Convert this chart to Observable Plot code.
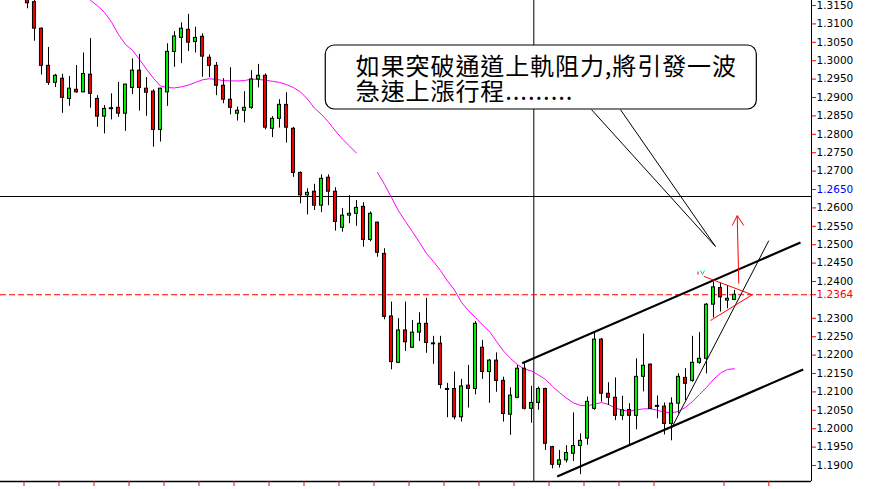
<!DOCTYPE html>
<html>
<head>
<meta charset="utf-8">
<script src="https://cdn.jsdelivr.net/npm/d3@7"></script>
<script src="https://cdn.jsdelivr.net/npm/@observablehq/plot@0.6"></script>
<style>
  html, body { margin: 0; padding: 0; background: #fff; overflow: hidden; }
  #chart svg { display: block; }
</style>
</head>
<body>
<div id="chart"></div>
<script>
// ---- candle data (index 1..102) ----
const opens  = [1.3172,1.3159,1.3087,1.2986,1.2940,1.2951,1.2896,1.2921,1.2914,1.2962,
                1.2896,1.2848,1.2871,1.2872,1.2856,1.2926,1.2973,1.2924,1.2916,1.2812,
                1.2914,1.3024,1.3062,1.3084,1.3051,1.3065,1.3008,1.2986,1.2932,1.2894,
                1.2856,1.2864,1.2872,1.2949,1.2959,1.2815,1.2842,1.2880,1.2815,1.2695,
                1.2634,1.2644,1.2606,1.2682,1.2644,1.2546,1.2579,1.2584,1.2603,1.2513,
                1.2560,1.2475,1.2305,1.2179,1.2267,1.2220,1.2261,1.2285,1.2232,1.2231,
                1.2108,1.2108,1.2031,1.2117,1.2108,1.2220,1.2154,1.2185,1.2130,1.2038,
                1.2084,1.2163,1.2054,1.2070,1.2108,1.1950,1.1902,1.1914,1.1932,1.1953,
                1.1973,1.2054,1.2242,1.2095,1.2084,1.2035,1.2051,1.2035,1.2141,1.2174,
                1.2062,1.2060,1.2013,1.2068,1.2138,1.2130,1.2179,1.2190,1.2337,1.2382,
                1.2348,1.2350];
const highs  = [1.3180,1.3165,1.3089,1.3036,1.2963,1.2963,1.2957,1.2987,1.3021,1.3060,
                1.2905,1.2878,1.2910,1.2941,1.2936,1.3005,1.3017,1.2954,1.2921,1.2925,
                1.3046,1.3079,1.3103,1.3126,1.3091,1.3073,1.3016,1.2995,1.2951,1.2981,
                1.2874,1.2916,1.2973,1.2990,1.2964,1.2848,1.2894,1.2913,1.2819,1.2698,
                1.2652,1.2664,1.2690,1.2690,1.2655,1.2598,1.2633,1.2620,1.2614,1.2589,
                1.2561,1.2489,1.2344,1.2299,1.2344,1.2294,1.2315,1.2354,1.2251,1.2251,
                1.2123,1.2154,1.2134,1.2172,1.2291,1.2240,1.2188,1.2206,1.2140,1.2111,
                1.2172,1.2181,1.2115,1.2113,1.2110,1.1952,1.1941,1.1954,1.2043,1.1986,
                1.2086,1.2261,1.2245,1.2125,1.2138,1.2088,1.2068,1.2190,1.2257,1.2176,
                1.2089,1.2070,1.2084,1.2149,1.2163,1.2251,1.2261,1.2340,1.2398,1.2395,
                1.2389,1.2376];
const lows   = [1.3141,1.3053,1.2961,1.2933,1.2927,1.2857,1.2876,1.2912,1.2913,1.2871,
                1.2819,1.2801,1.2839,1.2846,1.2808,1.2908,1.2863,1.2849,1.2765,1.2779,
                1.2876,1.2982,1.2992,1.3025,1.3021,1.2955,1.2954,1.2905,1.2883,1.2853,
                1.2836,1.2831,1.2868,1.2926,1.2812,1.2791,1.2817,1.2776,1.2683,1.2611,
                1.2581,1.2593,1.2587,1.2606,1.2537,1.2534,1.2557,1.2550,1.2493,1.2508,
                1.2466,1.2296,1.2160,1.2177,1.2210,1.2218,1.2237,1.2205,1.2175,1.2108,
                1.2030,1.2024,1.2018,1.2056,1.2092,1.2134,1.2069,1.2099,1.2018,1.1982,
                1.2082,1.2051,1.2015,1.2050,1.1941,1.1891,1.1893,1.1907,1.1911,1.1875,
                1.1955,1.2050,1.2072,1.2063,1.2022,1.2022,1.1956,1.1997,1.2100,1.2052,
                1.2027,1.1983,1.1967,1.2040,1.2076,1.2126,1.2175,1.2149,1.2301,1.2317,
                1.2326,1.2348];
const closes = [1.3156,1.3087,1.2986,1.2940,1.2959,1.2899,1.2924,1.2914,1.2964,1.2910,
                1.2848,1.2869,1.2871,1.2856,1.2935,1.2973,1.2926,1.2913,1.2812,1.2924,
                1.3024,1.3066,1.3087,1.3049,1.3062,1.3011,1.2986,1.2932,1.2894,1.2872,
                1.2864,1.2872,1.2949,1.2959,1.2818,1.2842,1.2880,1.2818,1.2695,1.2634,
                1.2641,1.2606,1.2679,1.2644,1.2562,1.2579,1.2584,1.2600,1.2513,1.2584,
                1.2478,1.2304,1.2181,1.2267,1.2235,1.2261,1.2285,1.2233,1.2232,1.2119,
                1.2108,1.2031,1.2115,1.2108,1.2285,1.2154,1.2185,1.2130,1.2040,1.2090,
                1.2163,1.2054,1.2070,1.2108,1.1959,1.1902,1.1914,1.1934,1.1953,1.1967,
                1.2073,1.2242,1.2095,1.2084,1.2035,1.2050,1.2035,1.2141,1.2171,1.2054,
                1.2062,1.2013,1.2068,1.2141,1.2122,1.2179,1.2190,1.2337,1.2384,1.2357,
                1.2353,1.2364];

// ---- moving average (index 10..102), null = gap ----
const maStart = 10;
const maValues = [1.3164,1.3149,1.3131,1.3105,1.3071,1.3044,1.3028,1.3003,1.2977,1.2952,
                  1.2931,1.2927,1.2926,1.2929,1.2934,1.2941,1.2948,1.2951,1.2949,1.2946,
                  1.2945,1.2945,1.2946,1.2950,1.2949,1.2947,1.2944,1.2941,1.2935,1.2927,
                  1.2915,1.2896,1.2871,1.2854,1.2833,1.2809,1.2787,1.2768,1.2749,null,
                  null,1.2696,1.2664,1.2628,1.2592,1.2563,1.2535,1.2506,1.2476,1.2454,
                  1.2430,1.2401,1.2377,1.2343,1.2321,1.2302,1.2282,1.2264,1.2237,1.2211,
                  1.2191,1.2174,1.2162,1.2157,1.2146,1.2134,1.2115,1.2098,1.2083,1.2070,
                  1.2063,1.2062,1.2067,1.2071,1.2066,1.2056,1.2050,1.2048,1.2051,1.2054,
                  1.2054,1.2050,1.2045,1.2043,1.2047,1.2058,1.2074,1.2093,1.2112,1.2134,
                  1.2151,1.2161,1.2163];

// ---- axis ticks ----
const priceTicksBlack = [1.1900,1.1950,1.2000,1.2050,1.2100,1.2150,1.2200,1.2250,1.2300,
                         1.2400,1.2450,1.2500,1.2550,1.2600,1.2700,1.2750,1.2800,1.2850,
                         1.2900,1.2950,1.3000,1.3050,1.3100,1.3150];
const priceTickCurrent = [1.2364];
const priceTickCursor  = [1.2650];
const timeTicks = [0.5,5.5,10.5,15.5,20.5,25.5,30.5,35.5,40.5,45.5,50.5,55.5,60.5,65.5,
                   70.5,75.5,80.5,85.5,90.5,100.5,106.9];

// ---- drawn objects (index, price) ----
const crossIndex = [73.33];
const crossPrice = [1.2631];
const currentPrice = [1.2364];
const channelLines = [
  {x1: 71.67, y1: 1.2178, x2: 111.43, y2: 1.2506},
  {x1: 76.67, y1: 1.1870, x2: 111.81, y2: 1.2161}
];
const thinLines = [
  {x1: 92.96, y1: 1.2000, x2: 106.90, y2: 1.2511},   // steep trend line
  {x1: 81.57, y1: 1.2867, x2: 99.29, y2: 1.2495},    // callout pointer
  {x1: 85.71, y1: 1.2867, x2: 99.29, y2: 1.2495}     // callout pointer
];
const redLines = [
  {x1: 97.61, y1: 1.2414, x2: 104.53, y2: 1.2364},   // pennant top
  {x1: 98.57, y1: 1.2294, x2: 104.53, y2: 1.2364},   // pennant bottom
  {x1: 102.61, y1: 1.2394, x2: 102.39, y2: 1.2579},  // arrow shaft
  {x1: 101.67, y1: 1.2552, x2: 102.39, y2: 1.2579},  // arrow head
  {x1: 103.33, y1: 1.2552, x2: 102.39, y2: 1.2579},
  {x1: 96.79, y1: 1.2427, x2: 96.79, y2: 1.2419}     // small mark
];
const cyanLines = [
  {x1: 97.14, y1: 1.2430, x2: 97.43, y2: 1.2419},
  {x1: 97.43, y1: 1.2419, x2: 97.71, y2: 1.2430}
];
const calloutBox = [{x1: 43.61, x2: 105.19, y1: 1.28674, y2: 1.30413}];
const calloutLines = ["如果突破通道上軌阻力,將引發一波", "急速上漲行程........."];
const calloutX = 47.9;
const calloutY = 1.29476;

// ---- build tables ----
const candles = opens.map((o, k) => ({i: k + 1, o, h: highs[k], l: lows[k], c: closes[k]}));
const bodies = candles.filter(d => d.o !== d.c);
const dojis = candles.filter(d => d.o === d.c);
const ma = maValues.map((v, k) => ({i: maStart + k, v}));
const callout = [{t: calloutLines.join("\n"), x: calloutX, y: calloutY}];

const W = 872, H = 489;
const xDomain = [-20 / 7, 113];
const yDomain = [1.185652, 1.316359];
const bw = 0.22;

const chart = Plot.plot({
  width: W,
  height: H,
  marginLeft: 0,
  marginRight: 61,
  marginTop: 0,
  marginBottom: 8,
  style: {fontFamily: "DejaVu Sans", fontSize: "10.5px", background: "#fff", color: "#000"},
  x: {type: "linear", domain: xDomain, axis: null},
  y: {type: "linear", domain: yDomain, axis: null},
  marks: [
    Plot.ruleX(crossIndex, {stroke: "#000", strokeWidth: 1}),
    Plot.ruleY(crossPrice, {stroke: "#000", strokeWidth: 1}),
    Plot.ruleY(currentPrice, {stroke: "#ff0000", strokeWidth: 1, strokeDasharray: "6,3"}),
    Plot.line(ma, {x: "i", y: "v", stroke: "#ff00ff", strokeWidth: 1}),
    Plot.ruleX(candles, {x: "i", y1: "l", y2: "h", stroke: "#000", strokeWidth: 1}),
    Plot.rect(bodies, {
      x1: d => d.i - bw, x2: d => d.i + bw, y1: "o", y2: "c",
      fill: d => d.c > d.o ? "#00ee00" : "#ee0000",
      stroke: "#000", strokeWidth: 1
    }),
    Plot.ruleY(dojis, {y: "o", x1: d => d.i - 0.3, x2: d => d.i + 0.3, stroke: "#000", strokeWidth: 2}),
    Plot.link(channelLines, {x1: "x1", y1: "y1", x2: "x2", y2: "y2", stroke: "#000", strokeWidth: 2.2}),
    Plot.link(thinLines, {x1: "x1", y1: "y1", x2: "x2", y2: "y2", stroke: "#000", strokeWidth: 1}),
    Plot.link(redLines, {x1: "x1", y1: "y1", x2: "x2", y2: "y2", stroke: "#ff0000", strokeWidth: 1}),
    Plot.link(cyanLines, {x1: "x1", y1: "y1", x2: "x2", y2: "y2", stroke: "#00d0d0", strokeWidth: 1}),
    Plot.rect(calloutBox, {x1: "x1", x2: "x2", y1: "y1", y2: "y2", fill: "#fff", stroke: "#000", strokeWidth: 1.2, rx: 9}),
    Plot.text(callout, {
      x: "x", y: "y", text: "t", textAnchor: "start", lineAnchor: "middle", lineHeight: 25 / 24,
      fontSize: 24, fontFamily: "Noto Sans CJK TC", fill: "#000"
    }),
    Plot.ruleX([xDomain[1]], {stroke: "#000", strokeWidth: 1}),
    Plot.ruleY([yDomain[0]], {stroke: "#000", strokeWidth: 1.3}),
    Plot.axisY({anchor: "right", ticks: priceTicksBlack, tickFormat: d => d.toFixed(4),
      tickSize: 4, tickPadding: 1, stroke: "#ff0000", fill: "#000", label: null}),
    Plot.axisY({anchor: "right", ticks: priceTickCurrent, tickFormat: d => d.toFixed(4),
      tickSize: 4, tickPadding: 1, stroke: "#ff0000", fill: "#ff0000", label: null}),
    Plot.axisY({anchor: "right", ticks: priceTickCursor, tickFormat: d => d.toFixed(4),
      tickSize: 4, tickPadding: 1, stroke: "#ff0000", fill: "#0000ff", label: null}),
    Plot.axisX({anchor: "bottom", ticks: timeTicks, tickFormat: () => "",
      tickSize: 5, stroke: "#ff0000", label: null})
  ]
});

// widen the callout lettering slightly to match the reference's character pitch
d3.select(chart).selectAll("g[font-family='Noto Sans CJK TC']").attr("letter-spacing", "0.9px");

document.getElementById("chart").appendChild(chart);
</script>
</body>
</html>
